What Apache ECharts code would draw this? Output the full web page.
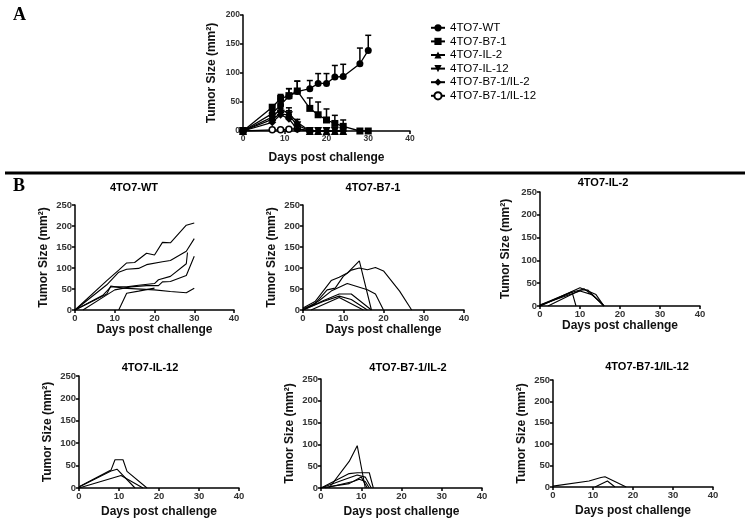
<!DOCTYPE html>
<html><head><meta charset="utf-8">
<script src="https://cdn.jsdelivr.net/npm/echarts@6/dist/echarts.min.js"></script>
<style>html,body{margin:0;padding:0;background:#fff}#c{width:750px;height:522px}</style>
</head><body><div id="c"></div>
<script>
// ---------- Panel A: group means ----------
const daysA = [0,7,9,11,13,16,18,20,22,24,28,30];
const groupNames = ['4TO7-WT','4TO7-B7-1','4TO7-IL-2','4TO7-IL-12','4TO7-B7-1/IL-2','4TO7-B7-1/IL-12'];
const wtMean   = [0,30,45,60,68,73,82,82,93,94,116,139];
const wtErr    = [0,6,10,13,18,14,17,17,20,21,27,26];
const b71Mean  = [0,41,56,61,69,39,28,19,13,8,0,0];
const b71Err   = [0,4,7,12,17,18,22,19,14,11,0,0];
const il2Days  = [0,7,9,11,13,16,18,20,22,24];
const il2Mean  = [0,24,38,30,15,0,0,0,0,0];
const il2Err   = [0,6,10,10,5,0,0,0,0,0];
const il12Days = [0,7,9,11,13,16,18,20,22,24];
const il12Mean = [0,20,30,27,10,0,0,0,0,0];
const il12Err  = [0,5,9,8,4,0,0,0,0,0];
const b7il2Days = [0,7,9,11,13,16,18,20,22,24];
const b7il2Mean = [0,15,28,21,3,0,0,0,0,0];
const b7il2Err  = [0,5,14,7,2,0,0,0,0,0];
const b7il12Days = [0,7,9,11,13,16];
const b7il12Mean = [0,2,2,3,4,0];
const b7il12Err  = [0,0,0,2,2,0];
const yTicksA = [0,50,100,150,200];
const xTicks = [0,10,20,30,40];
const yTicksB = [0,50,100,150,200,250];

// ---------- Panel B: individual mice [day, size] ----------
const wtMice = [
  [[0,0],[8,70],[11,95],[13,112],[15,113],[18,135],[20,131],[22,161],[24,160],[28,202],[30,207]],
  [[0,0],[8,60],[11,90],[13,97],[16,99],[18,108],[22,115],[24,118],[28,140],[30,170]],
  [[0,0],[7,35],[9,55],[13,55],[16,59],[20,63],[21,72],[24,80],[28,110],[28.3,137]],
  [[0,0],[8,38],[9,57],[12,52],[20,48],[24,44],[28,41],[30,52]],
  [[2,0],[8,36],[10,48],[14,55],[18,58],[21,58],[22,67],[24,68],[28,82],[30,128]],
  [[11,0],[13,40],[16,45],[20,52]]
];
const b71Mice = [
  [[0,5],[3,20],[7,70],[9,78],[11,88],[14,117],[17,0]],
  [[0,3],[3,15],[6,48],[8,52],[10,80],[12,95],[14,100],[16,96],[18,101],[20,93],[24,45],[27,0]],
  [[0,0],[4,22],[7,45],[11,63],[16,48],[18,38],[20,0]],
  [[0,0],[5,22],[9,38],[12,38],[17,0]],
  [[0,0],[5,20],[9,33],[12,25],[16,0]],
  [[2,0],[9,30],[15,0]]
];
const il2Mice = [
  [[0,2],[8,31],[9,0]],
  [[0,0],[10,40],[12,33],[14,25],[16,0]],
  [[0,0],[8,30],[10,35],[12,35],[16,0]],
  [[0,2],[10,33],[13,25],[16,0]],
  [[2,0],[9,30],[11,38],[15,10],[16,0]]
];
const il12Mice = [
  [[0,3],[8,40],[9,63],[11,63],[12,37],[17,0]],
  [[0,2],[8,38],[9.5,42],[14,0]],
  [[0,0],[10.5,28],[16,0]]
];
const b7il2Mice = [
  [[2,0],[7,61],[9,97],[11,0]],
  [[0,0],[7,33],[9,35],[12,35],[13,0]],
  [[0,0],[6,20],[9,30],[11,25],[12.5,0]],
  [[1,0],[8,15],[9.5,20],[11,15],[12,0]],
  [[0,0],[7,10],[10,25],[11.5,0]]
];
const b7il12Mice = [
  [[0,2],[9,14],[12,22],[13,24],[18.3,0]],
  [[10.5,0],[13.6,14],[15.5,0]]
];

// ---------- build chart ----------
const FF = "'Liberation Sans', Arial, sans-serif";
const grids = [
  {left:243, top:15,  width:167, height:116},
  {left:75,  top:205, width:159, height:105},
  {left:303, top:205, width:161, height:105},
  {left:540, top:192, width:160, height:114},
  {left:79,  top:376, width:160, height:112},
  {left:321, top:379, width:161, height:109},
  {left:553, top:380, width:160, height:107}
];
const titlePos = [[134,188],[373,188],[603,183],[150,368],[408,368],[647,367]];
const xNameGap = [21,14,14,14,18,18,18];
const yNameGap = [25,25,25,28,25,25,25];

function axisCommon(i, isA){
  return {
    gridIndex:i, type:'value',
    axisLine:{show:true, onZero:false, lineStyle:{color:'#000', width:1.5}},
    axisTick:{show:true, inside:false, length:3, lineStyle:{color:'#000', width:1.5}},
    axisLabel:{show:true, color:'#333', fontSize:isA?8.5:9.5, fontWeight:'bold', fontFamily:FF, margin:3},
    splitLine:{show:false},
    nameLocation:'middle',
    nameTextStyle:{fontSize:12, fontWeight:'bold', color:'#111', fontFamily:FF}
  };
}
const xAxes = [], yAxes = [];
grids.forEach((g,i)=>{
  const isA = i===0;
  xAxes.push(Object.assign(axisCommon(i,isA),{min:xTicks[0], max:xTicks[xTicks.length-1], interval:10,
    name:'Days post challenge', nameGap:xNameGap[i]}));
  const yt = isA ? yTicksA : yTicksB;
  yAxes.push(Object.assign(axisCommon(i,isA),{min:yt[0], max:yt[yt.length-1], interval:50,
    name:'Tumor Size (mm²)', nameGap:yNameGap[i]}));
});

const series = [];
const groupsA = [
  {days:daysA, mean:wtMean, err:wtErr, symbol:'circle', rot:0, fill:'#000', size:7},
  {days:daysA, mean:b71Mean, err:b71Err, symbol:'rect', rot:0, fill:'#000', size:7},
  {days:il2Days, mean:il2Mean, err:il2Err, symbol:'triangle', rot:0, fill:'#000', size:8},
  {days:il12Days, mean:il12Mean, err:il12Err, symbol:'triangle', rot:180, fill:'#000', size:8},
  {days:b7il2Days, mean:b7il2Mean, err:b7il2Err, symbol:'diamond', rot:0, fill:'#000', size:8},
  {days:b7il12Days, mean:b7il12Mean, err:b7il12Err, symbol:'circle', rot:0, fill:'#fff', size:6}
];
groupsA.slice().reverse().forEach((g)=>{
  const idx = groupsA.indexOf(g);
  const errData = g.days.map((d,k)=>[d, g.mean[k], g.mean[k]+g.err[k]]).filter(r=>r[2]>r[1]);
  series.push({
    type:'custom', xAxisIndex:0, yAxisIndex:0, data:errData, silent:true, z:2,
    renderItem:function(params, api){
      const p0 = api.coord([api.value(0), api.value(1)]);
      const p1 = api.coord([api.value(0), api.value(2)]);
      return {type:'group', children:[
        {type:'line', shape:{x1:p0[0],y1:p0[1],x2:p1[0],y2:p1[1]}, style:{stroke:'#000', lineWidth:1.5}},
        {type:'line', shape:{x1:p1[0]-3,y1:p1[1],x2:p1[0]+3,y2:p1[1]}, style:{stroke:'#000', lineWidth:1.5}}
      ]};
    }
  });
  series.push({
    name:groupNames[idx], type:'line', xAxisIndex:0, yAxisIndex:0, z:3,
    data:g.days.map((d,k)=>[d, g.mean[k]]),
    symbol:g.symbol, symbolRotate:g.rot, symbolSize:g.size, showSymbol:true,
    lineStyle:{color:'#000', width:1.3},
    itemStyle:{color:g.fill, borderColor:'#000', borderWidth:g.fill==='#fff'?1.5:0},
    animation:false
  });
});
[wtMice, b71Mice, il2Mice, il12Mice, b7il2Mice, b7il12Mice].forEach((mice, j)=>{
  mice.forEach(m=>{
    series.push({type:'line', xAxisIndex:j+1, yAxisIndex:j+1, data:m, showSymbol:false, symbol:'none',
      lineStyle:{color:'#000', width:1.1}, silent:true, animation:false});
  });
});

const graphics = [
  {type:'text', left:13, top:6, style:{text:'A', font:"bold 18px 'Liberation Serif', 'Times New Roman', serif", fill:'#000'}},
  {type:'text', left:13, top:177, style:{text:'B', font:"bold 18px 'Liberation Serif', 'Times New Roman', serif", fill:'#000'}},
  {type:'line', shape:{x1:5, y1:173, x2:745, y2:173}, style:{stroke:'#000', lineWidth:3}}
];
titlePos.forEach((p,j)=>{
  graphics.push({type:'text', x:p[0], y:p[1], style:{text:groupNames[j], font:"bold 11px "+FF, fill:'#000', textAlign:'center', textVerticalAlign:'middle'}});
});

const chart = echarts.init(document.getElementById('c'), null, {renderer:'canvas'});
chart.setOption({
  animation:false,
  backgroundColor:'#fff',
  textStyle:{fontFamily:FF},
  grid:grids,
  xAxis:xAxes, yAxis:yAxes,
  legend:{
    show:true, orient:'vertical', left:425, top:16, itemGap:0, itemWidth:14, itemHeight:9,
    data:groupNames, selectedMode:false,
    textStyle:{fontSize:11.5, color:'#000', fontFamily:FF, lineHeight:13.6},
    inactiveColor:'#000'
  },
  series:series,
  graphic:graphics
});
</script></body></html>
